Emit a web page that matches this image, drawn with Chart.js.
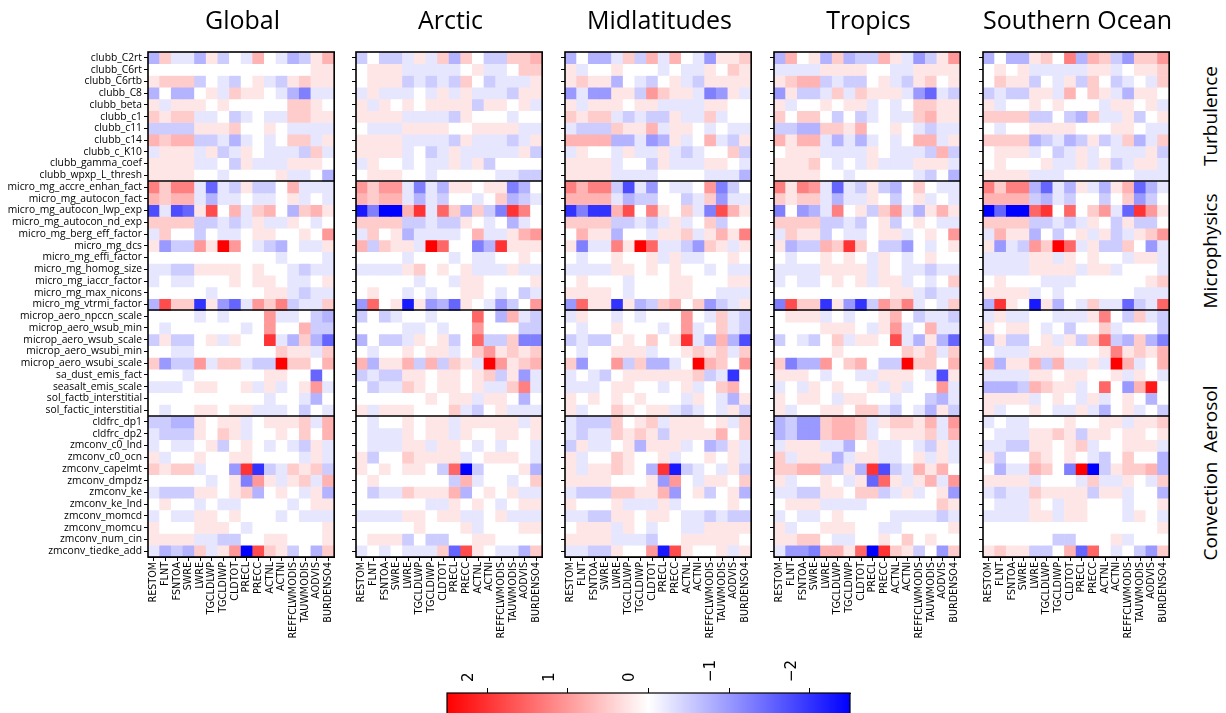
<!DOCTYPE html>
<html>
<head>
<meta charset="utf-8">
<script src="https://cdn.jsdelivr.net/npm/chart.js@4.4.1/dist/chart.umd.min.js"></script>
<style>
  body { margin: 0; background: #fff; width: 1226px; height: 713px; overflow: hidden; position: relative; font-family: 'Open Sans', sans-serif; }
  canvas { position: absolute; }
  .title { position: absolute; top: 2px; width: 300px; text-align: center; font-size: 25px; color: #000; white-space: nowrap; }
  .side { position: absolute; left: 1210px; font-size: 19px; color: #000; white-space: nowrap; transform: translate(-50%, -50%) rotate(-90deg); }
</style>
</head>
<body>
<script>
/* Perturbed-parameter sensitivity heatmaps — index.html */

// ── Data ──────────────────────────────────────────────────────
const regions = ['Global', 'Arctic', 'Midlatitudes', 'Tropics', 'Southern Ocean'];

const params = [
  'clubb_C2rt', 'clubb_C6rt', 'clubb_C6rtb', 'clubb_C8', 'clubb_beta', 'clubb_c1', 'clubb_c11',
  'clubb_c14', 'clubb_c_K10', 'clubb_gamma_coef', 'clubb_wpxp_L_thresh',
  'micro_mg_accre_enhan_fact', 'micro_mg_autocon_fact', 'micro_mg_autocon_lwp_exp',
  'micro_mg_autocon_nd_exp', 'micro_mg_berg_eff_factor', 'micro_mg_dcs', 'micro_mg_effi_factor',
  'micro_mg_homog_size', 'micro_mg_iaccr_factor', 'micro_mg_max_nicons', 'micro_mg_vtrmi_factor',
  'microp_aero_npccn_scale', 'microp_aero_wsub_min', 'microp_aero_wsub_scale',
  'microp_aero_wsubi_min', 'microp_aero_wsubi_scale', 'sa_dust_emis_fact', 'seasalt_emis_scale',
  'sol_factb_interstitial', 'sol_factic_interstitial',
  'cldfrc_dp1', 'cldfrc_dp2', 'zmconv_c0_lnd', 'zmconv_c0_ocn', 'zmconv_capelmt', 'zmconv_dmpdz',
  'zmconv_ke', 'zmconv_ke_lnd', 'zmconv_momcd', 'zmconv_momcu', 'zmconv_num_cin', 'zmconv_tiedke_add'
];

const outputs = ['RESTOM', 'FLNT', 'FSNTOA', 'SWRE', 'LWRE', 'TGCLDLWP', 'TGCLDIWP', 'CLDTOT',
  'PRECL', 'PRECC', 'ACTNL', 'ACTNI', 'REFFCLWMODIS', 'TAUWMODIS', 'AODVIS', 'BURDENSO4'];

const groups = ['Turbulence', 'Microphysics', 'Aerosol', 'Convection'];
const groupBreaks = [11, 22, 31];
const cbTicks = [2, 1, 0, -1, -2];

// cell codes, one char per output: '0' = 0, '1'..'9' = +0.25 .. +2.25, 'X' = +2.5,
// 'a'..'j' = -0.25 .. -2.5
const globalCells = [
  'c2aac1b0a30acb13', '0000000000000011', '1222b0ab01ab1211', 'c0cc01a2110aceaa',
  '1a11101000002210', '2122aa0ba0aa2211', 'bbbb11120010aaaa', '3233bbaca0a022a1',
  'a111a1ba10aaab2a', '1111aa0b1aaa1110', '111100a00001aa0c',
  '5255afab1bb03aaa', '3233acaa0aa01a0a', 'gagf1703a230c231', '2222bbaba1aa10a0',
  'a200b0aa01100104', '1dbb41X40abc0aa1', '00000000000a000a', 'aabb11110100abaa',
  'a0aa00010110aa01', '00000a000011abaa', 'c722h1dfa425baa2',
  '0000a0a0004aa0bc', '0a000000a04003bb', 'b1bb01a1008ac2cf', '00aa0000000211a2',
  '2dbb4a22abbX2203', '000a0000001100f0', 'aaa011001a1a014a', '0000000000a00ac0',
  '0a0011011aaa0b0a',
  'bbcc1011a01112a3', 'abbb1021a0010203', 'a0aa01b010a0ab1a', '1a00100110000a1a',
  '2122a00d8hba212b', '00000a01e41a12a3', 'abbb11012c010a1c', '0100a0aa0000a011',
  'a0aa1101000a0aaa', '10001110a0000001', '1111aabb00110001', 'acbc2a14j721b0c2'
];

const arcticCells = [
  'b0bba1a2c20bb223', '0111aaaaa01aa022', '0111babab20baaa1', 'a1aaa0a1a1aaab11',
  '1a10101111b1101a', '1111aaaab1000a00', '0aaa1111001111aa', '1111aaaab1aaaba1',
  '1111a0ba1aaaaa1b', 'a100a0aa1a1b0000', '011100a00000aabb',
  '4244aeac11011ec0', '3233acab00a02cba', 'iejj38a62c2be850', '2222bbabb10a0ca0',
  'a201caaaa03aa134', '3b211aX600ec8111', '0000a000a0aa0010', 'aaaa120101aaa1aa',
  '00000a00a1100001', '0100a0a00110a0ba', 'd601i1dcf10adb04',
  'b0ba00a00060c3ab', '0000aa0a004000bb', 'c0bba101b06bb2ee', '0a001011a0241212',
  '3c113b3b21aX4123', 'babb11011012b1da', '0baa2101101aa25a', '0000001011a110c0',
  '1a1110002ab01aaa',
  '0a001011a11111a1', '0aaa1011a1001101', '0aaa11a110a0a00a', '1b0021111a01110a',
  '1010110b6jb0001c', '01000000b3a00a02', '0baa21113c0101aa', '000000aa1010a011',
  'aaaa11011aa01aaa', '0000010001a00011', '0111b0bb00110000', 'a0a0aaa2f710aac2'
];

const midlatCells = [
  'c0cca2b3a30ad112', '1a001000a0aa1021', '1211c0ab01ab1111', 'dadd11b4211aed1a',
  '1a111011aaaa1100', '2122ababb1aa2a00', 'abbb2113a110a0aa', '3333ccadc1a03ab1',
  'a100a1aa1aba002b', '1111a00b1aaa110a', '1111aaaa0000aaac',
  '5355bgad0aa04eb0', '3333acbb00ba2daa', 'hehh3705102ae731', '2222bbaba1a02b00',
  '0311c00a112a1315', '1eaa51X6aabd21a1', '0a001001a1aa0010', 'aaaa11010100a0aa',
  '01000a0001100011', '11110a0001100aaa', 'd611h1cb2302dba1',
  'a100a0a00040a2ab', '0a001000a04a02ab', 'babb0102018ac3cg', '0a00111a001212a2',
  '2d004b2cca0X3204', 'a0ab01111112bah0', 'aaa01100a01a0230', '1010101000a10ac1',
  '1a0021011aba0a1b',
  'abbb2012a11101a2', 'abaa2121b1111302', 'b1aa01c111a0cb1a', '1a0021001a00101a',
  '1a11210c8iba0a1b', '11110001d40a1102', 'abbb22113d01b01c', '10001aaa1a000010',
  'aabb110110aababb', '0111a10a00aa1111', '1111aaab00111110', 'aabb1004i71001a1'
];

const tropicsCells = [
  'c301c2cbb31adb14', 'aaaa111100aa1111', '1233babb01ab1201', 'd1bba2a2111adfab',
  '1a001011a0a02211', '20220b0ba0aa2311', 'bbcc22130010abaa', '3133acaca0a033a1',
  '0111aaaa10aaab3b', '11120a0a1aaa111a', '111100a00000ab0c',
  '5154afab1bc020aa', '2122acaa10b01a0a', 'e0dca501b24ac131', '2222bbab01b010aa',
  'a211b0aa011a0104', '1cbb32820bbd0a01', '0a001010a10a0100', 'aaaa1111a10aabaa',
  'a0aa0101a11a0a02', '000000000011abaa', 'e722h1dhb425a0a2',
  '0111a0a00130baab', '00001110a14a03aa', 'b0ab02a1107ac1cf', '00000100000212a2',
  '2ecc40230bbX2203', '1110a00aa1110ag1', 'a0a101001a1a004a', '10110a1100a00bca',
  '1a0011022ab0ac1b',
  'cbdd2332a12213a4', 'cbdd2332a01112a3', 'a111aac01aa0ab1a', '2a111ca11aa01a1a',
  '2233bb1c8gba3130', '1a0010a1f61a13a4', 'aabb11022ba1a01d', '0111aaaa00000021',
  'a0aa010000aaaaba', '1a0011100aa00001', '11220aa001020100', 'adde3316j821b0d2'
];

const southernCells = [
  'c0cc1205c32bd224', '0101aaaaa11a0112', '0211b0a1b20ba0a2', 'babb11a3021ac110',
  '1a00101000a1101a', '2222bb0bc2aa1b01', '0a001111000110aa', '2222cbacb1ba2ca2',
  '0111a0ba1a0aaa1b', '010001aa1a1ba11a', '1111aaa000000aaa',
  '5255cfac1ac13fca', '3333bcab00b02db0', 'jfjj6806024af841', '2222bbaba10b1bb0',
  'a311c0b01a1ba124', '1dab42X6a1bb20da', 'aaaa11a10100a11a', 'aaaa1111a11a000a',
  '01000aaa00000012', '1111a0a000000aaa', 'c810i1c0a2aafba6',
  'a1aa00aaa150b2ab', '10110a0b002a000b', 'c1bb01a1b26bc2ce', '0aaa111000151213',
  '3c113b3aa1aX3a03', 'aaaa11011001a10a', 'cccb3211a060d390', '1111a010a1a010c0',
  '1a0010aa1ac01a0b',
  'a0aa00010011a112', '0aaa1121b1101101', 'aabb11012a00111a', '1b0021010ab0200c',
  '0caa320eXjb1223c', '1111a000a2aa10a2', 'abaa21111b11a00c', '0aaa10a11000a001',
  'aaaa11a11000a10a', '0000000000000001', '000000bb0001a000', '1211bb03f60a0bd2'
];

const panelCells = [globalCells, arcticCells, midlatCells, tropicsCells, southernCells];

// ── Layout ────────────────────────────────────────────────────
const PANEL_LEFT = [148, 356, 565, 774, 983];
const PANEL_W = 189;
const TOP = 52, BOTTOM = 557, CANVAS_H = 660;
const sideY = [116, 251, 419, 511];
const xFont = { family: "'DejaVu Sans', sans-serif", size: 9.6 };
const yFont = { family: "'Open Sans', sans-serif", size: 10.3 };

function decode(ch) {
  if (ch === 'X') return 2.5;
  if (ch >= '0' && ch <= '9') return +ch * 0.25;
  return -(ch.charCodeAt(0) - 96) * 0.25;
}

// matplotlib bwr, reversed: positive = red
function bwr(v) {
  const t = Math.max(-1, Math.min(1, v / 2.5));
  if (t >= 0) { const c = Math.round(255 * (1 - t)); return `rgb(255,${c},${c})`; }
  const c = Math.round(255 * (1 + t));
  return `rgb(${c},${c},255)`;
}

// ── Frame + group separators ──────────────────────────────────
const frame = {
  id: 'frame',
  afterDatasetsDraw(chart) {
    const { ctx, chartArea: a, scales: { y } } = chart;
    ctx.save();
    ctx.strokeStyle = '#000';
    ctx.lineWidth = 1.6;
    groupBreaks.forEach(b => {
      const py = Math.round(y.getPixelForValue(b));
      ctx.beginPath(); ctx.moveTo(a.left, py); ctx.lineTo(a.right, py); ctx.stroke();
    });
    ctx.strokeRect(a.left, a.top, a.right - a.left, a.bottom - a.top);
    ctx.restore();
  }
};

// ── Heatmap panels ────────────────────────────────────────────
function makePanel(idx) {
  const yW = idx === 0 ? 148 : 10;
  const canvas = document.createElement('canvas');
  canvas.width = yW + PANEL_W + 4;
  canvas.height = CANVAS_H;
  canvas.style.left = (PANEL_LEFT[idx] - yW) + 'px';
  canvas.style.top = '0px';
  document.body.appendChild(canvas);

  const values = panelCells[idx].map(row => [...row].map(decode));

  new Chart(canvas, {
    type: 'bar',
    data: {
      labels: outputs,
      datasets: values.map((row, i) => ({
        label: params[i],
        data: row.map(() => 1),
        backgroundColor: row.map(bwr),
        borderWidth: 0,
        barPercentage: 1,
        categoryPercentage: 1,
      }))
    },
    options: {
      responsive: false, animation: false,
      layout: { padding: { top: TOP, right: 4, left: 0, bottom: 0 } },
      plugins: { legend: { display: false }, tooltip: { enabled: false } },
      scales: {
        x: {
          stacked: true,
          grid: { offset: false, drawOnChartArea: false, tickLength: 4, color: '#000' },
          border: { color: '#000' },
          ticks: { autoSkip: false, minRotation: 90, maxRotation: 90, color: '#000', font: xFont, padding: 1 },
          afterFit: s => { s.height = CANVAS_H - BOTTOM; }
        },
        y: {
          stacked: true, reverse: true, min: 0, max: params.length,
          afterBuildTicks: s => { s.ticks = params.map((p, i) => ({ value: i + 0.5 })); },
          grid: { drawOnChartArea: false, tickLength: 4, color: '#000' },
          border: { color: '#000' },
          ticks: {
            autoSkip: false, color: '#000', font: yFont, padding: 2,
            callback: (v, i) => idx === 0 ? params[i] : ''
          },
          afterFit: s => { s.width = yW; }
        }
      }
    },
    plugins: [frame]
  });

  const t = document.createElement('div');
  t.className = 'title';
  t.style.left = (PANEL_LEFT[idx] + PANEL_W / 2 - 150) + 'px';
  t.textContent = regions[idx];
  document.body.appendChild(t);
}

regions.forEach((r, i) => makePanel(i));

groups.forEach((g, i) => {
  const d = document.createElement('div');
  d.className = 'side';
  d.style.top = sideY[i] + 'px';
  d.textContent = g;
  document.body.appendChild(d);
});

// ── Colour bar ────────────────────────────────────────────────
const cb = document.createElement('canvas');
cb.width = 445; cb.height = 95;
cb.style.left = '427px'; cb.style.top = '640px';
document.body.appendChild(cb);

new Chart(cb, {
  type: 'scatter',
  data: { datasets: [{ data: [] }] },
  options: {
    responsive: false, animation: false,
    layout: { padding: { left: 20, right: 22, top: 0, bottom: 0 } },
    plugins: { legend: { display: false }, tooltip: { enabled: false } },
    scales: {
      x: {
        type: 'linear', position: 'top', min: -2.5, max: 2.5, reverse: true,
        afterBuildTicks: s => { s.ticks = cbTicks.map(v => ({ value: v })); },
        grid: { drawOnChartArea: false, tickLength: 5, color: '#000' },
        border: { color: '#000' },
        ticks: {
          minRotation: 90, maxRotation: 90, color: '#000', padding: 6,
          font: { family: "'DejaVu Sans', sans-serif", size: 15 },
          callback: v => String(v).replace('-', '\u2212')
        },
        afterFit: s => { s.height = 53; }
      },
      y: { display: false, min: 0, max: 1 }
    }
  },
  plugins: [{
    id: 'gradient',
    beforeDatasetsDraw(chart) {
      const { ctx, chartArea: a, scales: { x } } = chart;
      const x0 = x.getPixelForValue(2.5), x1 = x.getPixelForValue(-2.5);
      const g = ctx.createLinearGradient(x0, 0, x1, 0);
      g.addColorStop(0, bwr(2.5));
      g.addColorStop(0.5, bwr(0));
      g.addColorStop(1, bwr(-2.5));
      ctx.save();
      ctx.fillStyle = g;
      ctx.fillRect(a.left, a.top, a.right - a.left, a.bottom - a.top);
      ctx.strokeStyle = '#000';
      ctx.lineWidth = 1.2;
      ctx.strokeRect(a.left, a.top, a.right - a.left, a.bottom - a.top);
      ctx.restore();
    }
  }]
});
</script>
</body>
</html>
